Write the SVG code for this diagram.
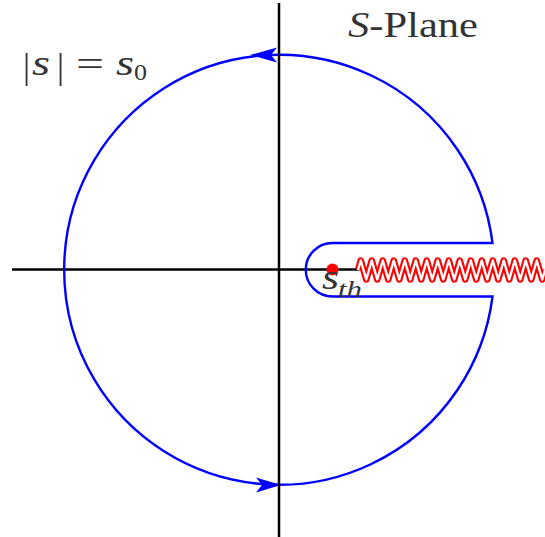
<svg xmlns="http://www.w3.org/2000/svg" width="545" height="537" viewBox="0 0 545 537">
<style>
.axis{stroke:#000;stroke-width:2.5;fill:none}
.contour{stroke:#0000ff;stroke-width:2.4;fill:none}
.arrow{fill:#0000ff;stroke:none}
.lbl{font-family:"Liberation Serif","DejaVu Serif",serif;fill:#333}
.it{font-style:italic}
.zz{fill:none;stroke-linejoin:round;stroke-linecap:butt}
</style>
<defs>
  <polyline id="zig" points="358,270 360.75,260.5 366.25,279.5 371.75,260.5 377.25,279.5 382.75,260.5 388.25,279.5 393.75,260.5 399.25,279.5 404.75,260.5 410.25,279.5 415.75,260.5 421.25,279.5 426.75,260.5 432.25,279.5 437.75,260.5 443.25,279.5 448.75,260.5 454.25,279.5 459.75,260.5 465.25,279.5 470.75,260.5 476.25,279.5 481.75,260.5 487.25,279.5 492.75,260.5 498.25,279.5 503.75,260.5 509.25,279.5 514.75,260.5 520.25,279.5 525.75,260.5 531.25,279.5 536.75,260.5 542.25,279.5 545,270"/>
</defs>
<rect width="545" height="537" fill="#fff"/>
<g id="connectors">
  <line id="x-axis" class="axis" x1="12" y1="269.5" x2="359" y2="269.5"/>
  <path id="contour" class="contour" d="M492.5,243 A215,215 0 1 0 492.5,296.5 L332.5,296.5 A26.75,26.75 0 0 1 332.5,243 Z"/>
  <path class="arrow" d="M250,55 L277,47.5 L271,55 L277,62.5 Z"/>
  <path class="arrow" d="M281,485 L256,477.5 L262,485 L256,492.5 Z"/>
  <line id="y-axis" class="axis" x1="279" y1="3" x2="279" y2="537"/>
</g>
<g id="branch-cut">
  <use href="#zig" class="zz" stroke="#ff0000" stroke-width="6.5"/>
  <use href="#zig" class="zz" stroke="#ffffff" stroke-width="2.4"/>
</g>
<g id="s-th">
  <circle cx="332.5" cy="269.5" r="6" fill="#ff0000"/>
  <text class="lbl it" x="322" y="289" style="font-size:35px" textLength="17" lengthAdjust="spacingAndGlyphs">s</text>
  <text class="lbl it" x="338" y="297" style="font-size:24px" textLength="24" lengthAdjust="spacingAndGlyphs">th</text>
</g>
<g id="label-s0">
  <text class="lbl" x="23" y="78" style="font-size:35px">|</text>
  <text class="lbl it" x="32" y="75" style="font-size:35px" textLength="18" lengthAdjust="spacingAndGlyphs">s</text>
  <text class="lbl" x="57" y="78" style="font-size:35px">|</text>
  <text class="lbl" x="76" y="76" style="font-size:35px" textLength="28" lengthAdjust="spacingAndGlyphs">=</text>
  <text class="lbl it" x="116" y="75" style="font-size:35px" textLength="18" lengthAdjust="spacingAndGlyphs">s</text>
  <text class="lbl" x="134" y="80" style="font-size:24px" textLength="13" lengthAdjust="spacingAndGlyphs">0</text>
</g>
<g id="label-plane">
  <text class="lbl" x="348" y="37" style="font-size:36px" textLength="130" lengthAdjust="spacingAndGlyphs"><tspan class="it">S</tspan>-Plane</text>
</g>
</svg>
